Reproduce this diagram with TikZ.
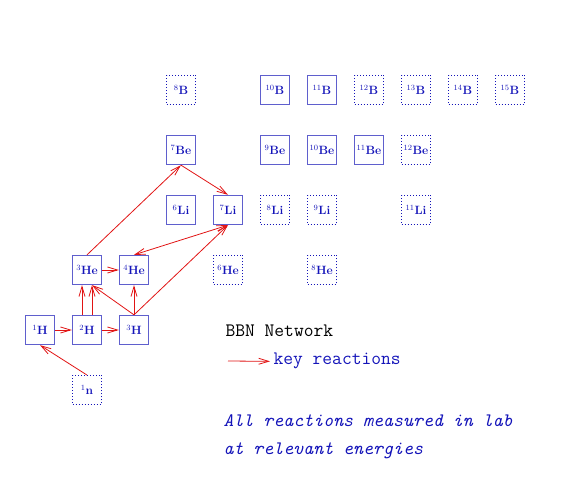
\documentclass[tikz,border=0pt]{standalone}
\usetikzlibrary{arrows.meta}
\definecolor{boxblue}{RGB}{95,95,205}
\definecolor{txtblue}{RGB}{20,20,185}
\definecolor{rxnred}{RGB}{225,20,20}
\tikzset{
  iso/.style={draw=boxblue, line width=1.3pt, minimum size=29pt, inner sep=0pt,
    text=txtblue, font=\bfseries\fontsize{12}{14}\selectfont},
  unk/.style={iso, draw=txtblue, line width=0.9pt, dash pattern=on 1pt off 2pt},
  rxn/.style={draw=rxnred, line width=0.8pt, -{Straight Barb[length=10pt,width=6pt]}},
  legend/.style={anchor=base west, font=\ttfamily\fontsize{19}{23}\selectfont},
}
\begin{document}
\begin{tikzpicture}[x=1pt,y=-1pt]
\useasboundingbox (0,0) rectangle (566,486);
\node[unk] (n1)   at (87,390)  {$^{1}$n};
\node[iso] (H1)   at (40,330)  {$^{1}$H};
\node[iso] (H2)   at (87,330)  {$^{2}$H};
\node[iso] (H3)   at (134,330) {$^{3}$H};
\node[iso] (He3)  at (87,270)  {$^{3}$He};
\node[iso] (He4)  at (134,270) {$^{4}$He};
\node[unk] (He6)  at (228,270) {$^{6}$He};
\node[unk] (He8)  at (322,270) {$^{8}$He};
\node[iso] (Li6)  at (181,210) {$^{6}$Li};
\node[iso] (Li7)  at (228,210) {$^{7}$Li};
\node[unk] (Li8)  at (275,210) {$^{8}$Li};
\node[unk] (Li9)  at (322,210) {$^{9}$Li};
\node[unk] (Li11) at (416,210) {$^{11}$Li};
\node[iso] (Be7)  at (181,150) {$^{7}$Be};
\node[iso] (Be9)  at (275,150) {$^{9}$Be};
\node[iso] (Be10) at (322,150) {$^{10}$Be};
\node[iso] (Be11) at (369,150) {$^{11}$Be};
\node[unk] (Be12) at (416,150) {$^{12}$Be};
\node[unk] (B8)   at (181,90)  {$^{8}$B};
\node[iso] (B10)  at (275,90)  {$^{10}$B};
\node[iso] (B11)  at (322,90)  {$^{11}$B};
\node[unk] (B12)  at (369,90)  {$^{12}$B};
\node[unk] (B13)  at (416,90)  {$^{13}$B};
\node[unk] (B14)  at (463,90)  {$^{14}$B};
\node[unk] (B15)  at (510,90)  {$^{15}$B};
% key reactions
\draw[rxn] (n1.north) -- (H1.south);
\draw[rxn] (H1) -- (H2);
\draw[rxn] (H2) -- (H3);
\draw[rxn] ([xshift=-5pt]H2.north) -- ([xshift=-5pt]He3.south);
\draw[rxn] ([xshift=5pt]H2.north) -- ([xshift=5pt]He3.south);
\draw[rxn] (H3.north) -- ([xshift=5pt]He3.south);
\draw[rxn] (H3) -- (He4);
\draw[rxn] (He3) -- (He4);
\draw[rxn] (He3.north) -- (Be7.south);
\draw[rxn] (Be7.south) -- (Li7.north);
\draw[rxn] (H3.north) -- (Li7.south);
\draw[rxn, {Straight Barb[length=10pt,width=6pt]}-{Straight Barb[length=10pt,width=6pt]}] (He4.north) -- (Li7.south);
% legend
\node[legend] (title) at (222,337) {BBN Network};
\coordinate (keytail) at (228,361);
\node[legend, text=txtblue] (keytext) at (270,365) {key reactions};
\draw[rxn] (keytail) -- (keytext.west);
\node[legend, text=txtblue, font=\ttfamily\itshape\fontsize{19}{23}\selectfont] (note1) at (220,427) {All reactions measured in lab};
\node[legend, text=txtblue, font=\ttfamily\itshape\fontsize{19}{23}\selectfont] (note2) at (220,455) {at relevant energies};
\end{tikzpicture}
\end{document}
